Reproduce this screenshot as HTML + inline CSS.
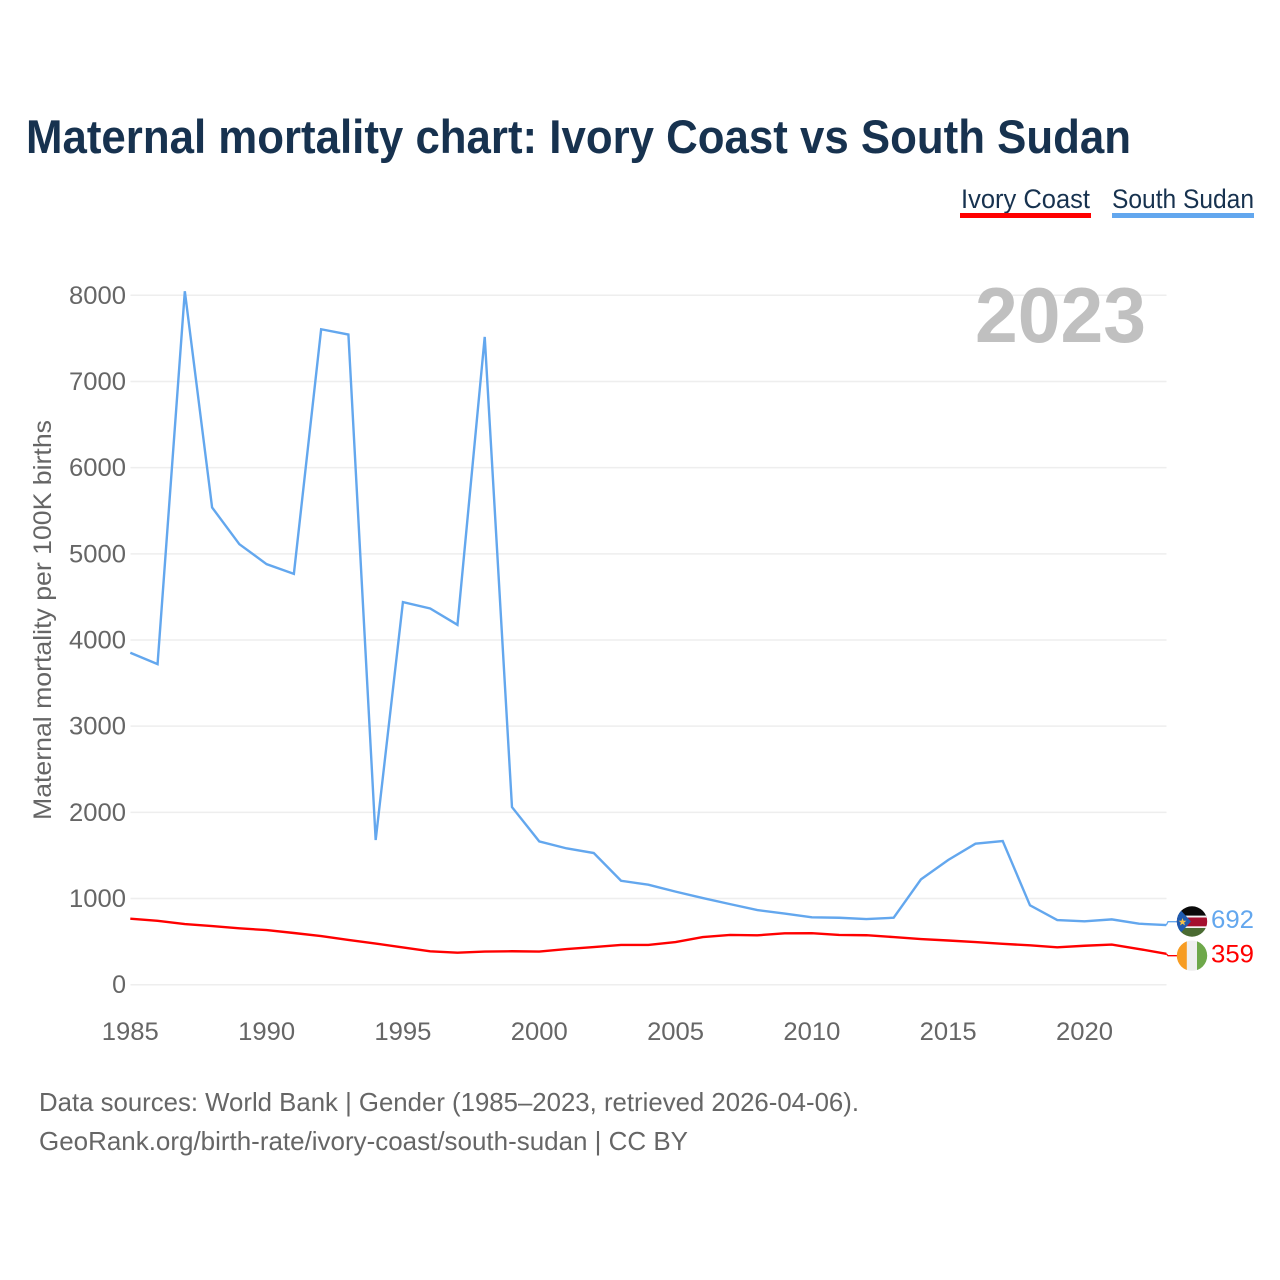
<!DOCTYPE html>
<html lang="en">
<head>
<meta charset="utf-8">
<title>Maternal mortality chart: Ivory Coast vs South Sudan</title>
<style>
html,body{margin:0;padding:0;background:#fff;width:1280px;height:1280px;overflow:hidden}
svg{display:block}
text{font-family:"Liberation Sans",sans-serif}
</style>
</head>
<body>
<svg id="chart" xmlns="http://www.w3.org/2000/svg" width="1280" height="1280" viewBox="0 0 1280 1280">
  <text x="26" y="153" font-size="47" font-weight="700" fill="#17324f" textLength="1105" lengthAdjust="spacingAndGlyphs">Maternal mortality chart: Ivory Coast vs South Sudan</text>

  <g>
    <text x="961" y="208" font-size="27" fill="#17324f" textLength="129" lengthAdjust="spacingAndGlyphs">Ivory Coast</text>
    <rect x="960" y="213" width="131" height="5" fill="#ff0000"/>
  </g>
  <g>
    <text x="1112" y="208" font-size="27" fill="#17324f" textLength="142" lengthAdjust="spacingAndGlyphs">South Sudan</text>
    <rect x="1112" y="213" width="142" height="5" fill="#63a7ee"/>
  </g>

  <g id="grid"></g>
  <g id="yticks"></g>
  <g id="xticks"></g>

  <text transform="translate(51,620) rotate(-90)" text-anchor="middle" font-size="25" fill="#666" textLength="400" lengthAdjust="spacingAndGlyphs">Maternal mortality per 100K births</text>

  <text x="1146" y="342" text-anchor="end" font-size="78" font-weight="700" fill="#c0c0c0" textLength="171" lengthAdjust="spacingAndGlyphs">2023</text>

  <g id="series"></g>

  <defs>
    <clipPath id="clip-ss"><circle cx="1192" cy="921.5" r="15.2"/></clipPath>
    <clipPath id="clip-ci"><circle cx="1192" cy="955.7" r="15.2"/></clipPath>
  </defs>

  <g clip-path="url(#clip-ss)">
    <rect x="1176" y="906" width="32" height="11" fill="#0a0a0a"/>
    <rect x="1176" y="915.6" width="32" height="2" fill="#f4f4f4"/>
    <rect x="1176" y="917.5" width="32" height="9" fill="#a5112f"/>
    <rect x="1176" y="926.3" width="32" height="2" fill="#f4f4f4"/>
    <rect x="1176" y="928" width="32" height="10" fill="#4a6b32"/>
    <polygon points="1176,905 1191,921.5 1176,938" fill="#1f5bb0"/>
    <polygon points="1182.5,918 1183.5,920.8 1186.4,920.8 1184.1,922.6 1185,925.4 1182.5,923.7 1180,925.4 1180.9,922.6 1178.6,920.8 1181.5,920.8" fill="#f5c14a"/>
  </g>
  <g clip-path="url(#clip-ci)">
    <rect x="1176" y="940" width="11" height="32" fill="#f79c22"/>
    <rect x="1186.8" y="940" width="10.4" height="32" fill="#efefef"/>
    <rect x="1197" y="940" width="11" height="32" fill="#6ea84a"/>
  </g>

  <text x="1211" y="928" font-size="25" fill="#63a7ee" textLength="43" lengthAdjust="spacingAndGlyphs">692</text>
  <text x="1211" y="962.5" font-size="25" fill="#ff0000" textLength="43" lengthAdjust="spacingAndGlyphs">359</text>

  <text x="39" y="1111" font-size="26" fill="#666" textLength="820" lengthAdjust="spacingAndGlyphs">Data sources: World Bank | Gender (1985–2023, retrieved 2026-04-06).</text>
  <text x="39" y="1150" font-size="26" fill="#666" textLength="649" lengthAdjust="spacingAndGlyphs">GeoRank.org/birth-rate/ivory-coast/south-sudan | CC BY</text>
</svg>
<script>
const years = [1985,1986,1987,1988,1989,1990,1991,1992,1993,1994,1995,1996,1997,1998,1999,2000,2001,2002,2003,2004,2005,2006,2007,2008,2009,2010,2011,2012,2013,2014,2015,2016,2017,2018,2019,2020,2021,2022,2023];
const southSudan = [3852,3720,8047,5538,5112,4880,4768,7606,7545,1679,4440,4366,4176,7517,2061,1663,1582,1528,1206,1160,1080,1005,935,866,826,782,777,762,777,1222,1447,1636,1667,921,750,735,758,708,692];
const ivoryCoast = [766,741,704,681,654,634,600,565,519,478,432,387,371,385,388,385,414,437,461,462,495,553,577,573,596,598,577,574,553,530,513,495,474,457,434,452,466,414,359];
const yTickValues = [0,1000,2000,3000,4000,5000,6000,7000,8000];
const xTickValues = [1985,1990,1995,2000,2005,2010,2015,2020];

const SVGNS = 'http://www.w3.org/2000/svg';
const xScale = y => 130.3 + (y - 1985) * (1166.3 - 130.3) / (2023 - 1985);
const yScale = v => 984.7 - v * (984.7 - 295.3) / 8000;

function make(tag, attrs, parent) {
  const el = document.createElementNS(SVGNS, tag);
  for (const k in attrs) el.setAttribute(k, attrs[k]);
  parent.appendChild(el);
  return el;
}

const gridG = document.getElementById('grid');
const yG = document.getElementById('yticks');
const xG = document.getElementById('xticks');
const seriesG = document.getElementById('series');

yTickValues.forEach(v => {
  const line = make('line', {x1: 130.5, x2: 1166.5, y1: yScale(v), y2: yScale(v), stroke: '#eeeeee', 'stroke-width': 1.5}, gridG);
  
  
  const t = make('text', {x: 126, y: yScale(v) + 8.5, 'text-anchor': 'end', 'font-size': 25, fill: '#666'}, yG);
  
  
  t.textContent = String(v);
});

xTickValues.forEach(y => {
  const t = make('text', {x: xScale(y), y: 1040, 'text-anchor': 'middle', 'font-size': 25, fill: '#666'}, xG);
  
  
  t.textContent = String(y);
});

function pathFor(values) {
  return values.map((v, i) => (i ? 'L' : 'M') + xScale(years[i]).toFixed(2) + ' ' + yScale(v).toFixed(2)).join(' ');
}

const lineSS = make('path', {d: pathFor(southSudan), fill: 'none', stroke: '#63a7ee', 'stroke-width': 2.4, 'stroke-linejoin': 'miter'}, seriesG);



const lineCI = make('path', {d: pathFor(ivoryCoast), fill: 'none', stroke: '#ff0000', 'stroke-width': 2.4, 'stroke-linejoin': 'miter'}, seriesG);



const endSS = yScale(southSudan[southSudan.length - 1]);
const endCI = yScale(ivoryCoast[ivoryCoast.length - 1]);
const connSS = make('path', {d: 'M1166.3 ' + endSS + ' L1168 921.7 L1177 921.7', fill: 'none', stroke: '#63a7ee', 'stroke-width': 1.3}, seriesG);


const connCI = make('path', {d: 'M1166.3 ' + endCI + ' L1168 955.7 L1177 955.7', fill: 'none', stroke: '#ff0000', 'stroke-width': 1.3}, seriesG);



document.querySelectorAll('#yticks text, #xticks text').forEach(t => {
  if (t.textContent.length === 4) {
    t.setAttribute('textLength', '57');
    t.setAttribute('lengthAdjust', 'spacingAndGlyphs');
  }
});
</script>
</body>
</html>
